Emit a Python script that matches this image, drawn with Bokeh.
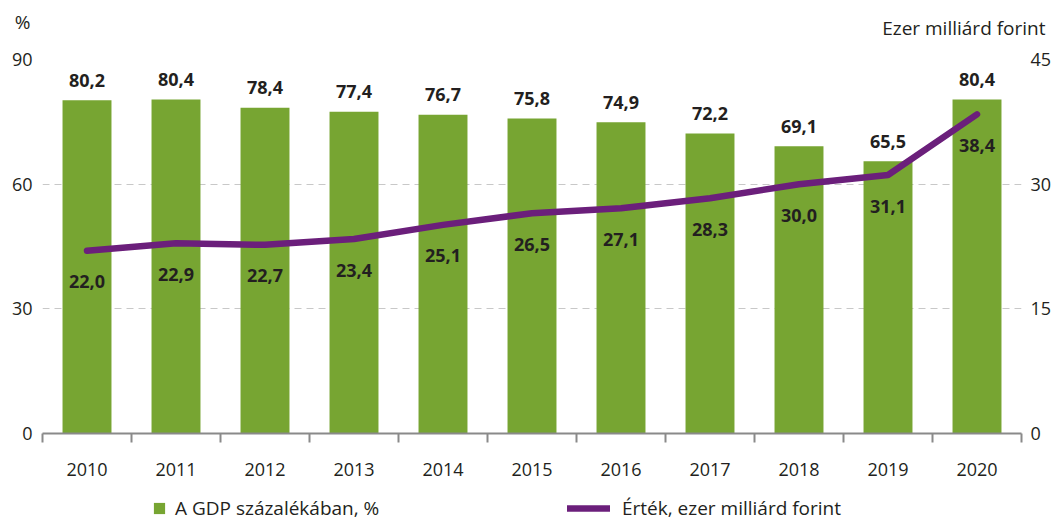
from bokeh.plotting import figure
from bokeh.layouts import column
from bokeh.models import (ColumnDataSource, Range1d, LinearAxis, FixedTicker, LabelSet,
                          Label, Legend, LegendItem)
from bokeh.core.properties import value
from bokeh.embed import file_html
from bokeh.resources import INLINE

years = [2010, 2011, 2012, 2013, 2014, 2015, 2016, 2017, 2018, 2019, 2020]
gdp_pct = [80.2, 80.4, 78.4, 77.4, 76.7, 75.8, 74.9, 72.2, 69.1, 65.5, 80.4]
value_bn = [22.0, 22.9, 22.7, 23.4, 25.1, 26.5, 27.1, 28.3, 30.0, 31.1, 38.4]
left_ticks = [0, 30, 60, 90]
right_ticks = [0, 15, 30, 45]
left_title = "%"
right_title = "Ezer milliárd forint"
bar_name = "A GDP százalékában, %"
line_name = "Érték, ezer milliárd forint"

FONT = "Open Sans"
GREEN = "#77a532"
PURPLE = "#6b1f7b"
TXT = "#231f20"
W = 1054
H_HEAD = 45
H_MAIN = 446
H_LEG = 30


def fmt(v):
    return f"{v:.1f}".replace(".", ",")


def bare(fig):
    fig.outline_line_color = None
    fig.grid.visible = False
    fig.min_border = 0
    fig.min_border_left = 0
    fig.min_border_right = 0
    fig.min_border_top = 0
    fig.min_border_bottom = 0
    return fig


src = ColumnDataSource(dict(
    x=years, bar=gdp_pct, line=value_bn,
    bar_lbl=[fmt(v) for v in gdp_pct], line_lbl=[fmt(v) for v in value_bn],
))

# ---------- header (axis titles) ----------
head = bare(figure(width=W, height=H_HEAD, output_backend="svg", toolbar_location=None,
                   x_range=Range1d(0, W), y_range=Range1d(0, H_HEAD),
                   x_axis_location=None, y_axis_location=None, frame_align=False))
head.add_layout(Label(x=22, y=H_HEAD - 21, text=left_title, text_align="center",
                      text_baseline="middle", text_font=FONT, text_font_size="19px",
                      text_color=TXT))
head.add_layout(Label(x=1045, y=H_HEAD - 27, text=right_title, text_align="right",
                      text_baseline="middle", text_font=FONT, text_font_size="19px",
                      text_color=TXT))

# ---------- main chart ----------
p = figure(width=W, height=H_MAIN, output_backend="svg", toolbar_location=None,
           x_range=Range1d(2009.5, 2020.5), y_range=Range1d(0, 90), frame_align=False,
           min_border_left=42, min_border_right=33, min_border_top=59 - H_HEAD,
           min_border_bottom=H_MAIN + H_HEAD - 433)
p.outline_line_color = None
p.extra_y_ranges = {"right": Range1d(0, 45)}

p.vbar(x="x", top="bar", width=0.55, source=src, fill_color=GREEN, line_color=None)
p.line(x="x", y="line", source=src, y_range_name="right", line_color=PURPLE,
       line_width=6.5, line_cap="round", line_join="round")

p.xaxis.ticker = FixedTicker(ticks=years, minor_ticks=[y - 0.5 for y in years] + [2020.5])
p.xaxis.major_tick_out = 0
p.xaxis.major_tick_in = 0
p.xaxis.minor_tick_out = 9
p.xaxis.minor_tick_in = 0
p.xaxis.minor_tick_line_color = "#8a8a8a"
p.xaxis.minor_tick_line_width = 2
p.xaxis.axis_line_color = "#8a8a8a"
p.xaxis.axis_line_width = 2
p.xaxis.major_label_standoff = 20
p.xaxis.major_label_text_font = FONT
p.xaxis.major_label_text_font_size = "18px"
p.xaxis.major_label_text_color = TXT

p.yaxis.ticker = FixedTicker(ticks=left_ticks)
p.yaxis.axis_line_color = None
p.yaxis.major_tick_line_color = None
p.yaxis.major_tick_out = 0
p.yaxis.major_tick_in = 0
p.yaxis.minor_tick_line_color = None
p.yaxis.major_label_standoff = 10
p.yaxis.major_label_text_font = FONT
p.yaxis.major_label_text_font_size = "18px"
p.yaxis.major_label_text_color = TXT

ra = LinearAxis(y_range_name="right", ticker=FixedTicker(ticks=right_ticks))
ra.axis_line_color = None
ra.major_tick_line_color = None
ra.major_tick_out = 0
ra.major_tick_in = 0
ra.minor_tick_line_color = None
ra.major_label_standoff = 9
ra.major_label_text_font = FONT
ra.major_label_text_font_size = "18px"
ra.major_label_text_color = TXT
p.add_layout(ra, "right")

p.xgrid.grid_line_color = None
p.ygrid.ticker = FixedTicker(ticks=[30, 60, 90])
p.ygrid.grid_line_color = "#c8c8c8"
p.ygrid.grid_line_dash = "7 5"
p.ygrid.grid_line_width = 1.2

p.add_layout(LabelSet(x="x", y="bar", text="bar_lbl", source=src, text_align="center",
                      text_baseline="middle", y_offset=20, text_font=value(FONT),
                      text_font_size=value("18px"), text_font_style=value("bold"),
                      text_color=value(TXT)))
p.add_layout(LabelSet(x="x", y="line", text="line_lbl", source=src, y_range_name="right",
                      text_align="center", text_baseline="middle", y_offset=-31,
                      text_font=value(FONT), text_font_size=value("18px"),
                      text_font_style=value("bold"), text_color=value(TXT)))

# ---------- legend strip ----------
# same ranges in x as the chart, y range above all data: the swatch renderers stay hidden
leg = bare(figure(width=W, height=H_LEG, output_backend="svg", toolbar_location=None,
                  x_range=Range1d(2009.5, 2020.5), y_range=Range1d(500, 530),
                  x_axis_location=None, y_axis_location=None, frame_align=False))
r_bar = leg.vbar(x="x", top="bar", source=src, width=0.55, fill_color=GREEN, line_color=None)
r_line = leg.line(x="x", y="line", source=src, line_color=PURPLE, line_width=6.5,
                  line_cap="round")


def mk_legend(item, x, gw, standoff):
    lg = Legend(items=[item], location=(x, 0), orientation="horizontal",
                glyph_width=gw, glyph_height=14, label_standoff=standoff,
                padding=0, margin=0, spacing=0, border_line_color=None,
                background_fill_alpha=0, label_text_font=FONT,
                label_text_font_size="19px", label_text_color=TXT, label_height=20)
    leg.add_layout(lg, "center")


mk_legend(LegendItem(label=bar_name, renderers=[r_bar]), 152, 14, 9)
mk_legend(LegendItem(label=line_name, renderers=[r_line]), 567, 43, 12)

layout = column(head, p, leg, spacing=0)
open("out.html", "w").write(file_html(layout, INLINE))
